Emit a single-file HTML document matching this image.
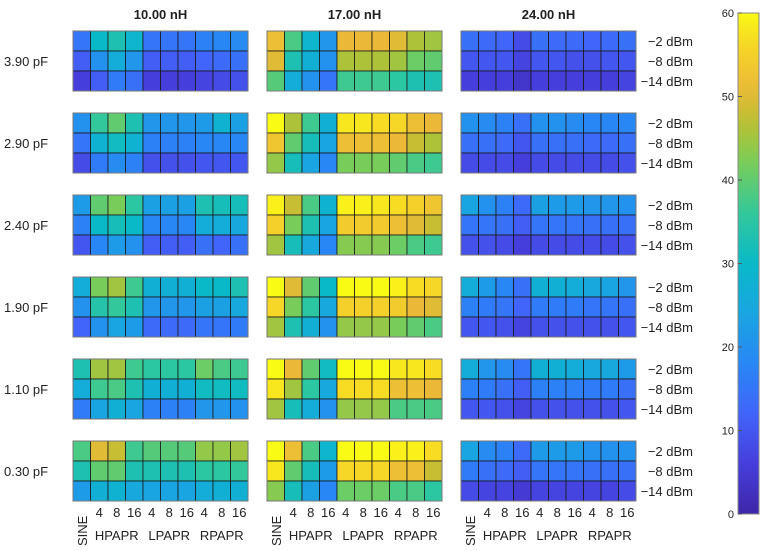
<!DOCTYPE html>
<html><head><meta charset="utf-8"><style>
body{margin:0;background:#fff;font-family:"Liberation Sans",Arial,sans-serif}
svg text{font-family:"Liberation Sans",Arial,sans-serif;fill:#222}
</style></head><body>
<svg id="chart" width="764" height="546" xmlns="http://www.w3.org/2000/svg">
<defs><linearGradient id="cbg" x1="0" y1="1" x2="0" y2="0"></linearGradient></defs>
</svg>
<script>
const inductances = ["10.00 nH","17.00 nH","24.00 nH"];
const capacitances = ["3.90 pF","2.90 pF","2.40 pF","1.90 pF","1.10 pF","0.30 pF"];
const powers = ["\u22122 dBm","\u22128 dBm","\u221214 dBm"];
const xTicks = ["4","8","16","4","8","16","4","8","16"];
const groups = ["HPAPR","LPAPR","RPAPR"];
const cbTicks = [0,10,20,30,40,50,60];
// values[capRow][inductance][powerRow][col]
const values = [
 [[[15,30,33,29,15,15,15,17,18,19],[11,20,26,21,11,11,11,12,13,14],[6,11,16,14,6,6,6,7,8,9]],
  [[52,38,29,21,51,51,51,50,46,45],[50,33,27,20,46,46,46,45,41,40],[39,26,20,15,37,37,37,35,33,33]],
  [[14,13,12,8,14,13,13,12,13,14],[10,10,10,7,10,10,9,9,10,10],[6,6,6,4,6,6,6,6,6,7]]],
 [[[20,36,40,33,21,21,21,22,28,23],[15,28,31,28,17,17,17,18,18,18],[8,16,19,17,9,9,9,10,10,10]],
  [[60,46,37,27,58,58,57,56,52,51],[53,40,32,24,52,52,52,51,48,46],[44,32,24,18,42,42,42,40,38,37]],
  [[20,19,17,14,20,20,19,18,18,18],[14,14,13,10,14,14,14,13,13,14],[8,8,8,6,8,8,8,8,8,9]]],
 [[[22,40,42,35,23,23,23,33,32,32],[17,30,32,30,18,18,18,26,26,25],[10,18,22,20,11,11,11,14,12,14]],
  [[59,48,38,28,59,59,58,57,55,53],[55,42,33,24,54,54,54,52,50,48],[45,32,25,18,43,43,43,41,38,37]],
  [[24,20,17,13,23,22,22,21,21,20],[15,15,14,11,15,15,15,14,14,14],[9,9,8,6,8,8,8,8,8,9]]],
 [[[26,42,45,37,27,27,27,30,30,33],[20,34,36,33,21,21,21,23,23,25],[12,20,24,22,13,13,13,15,15,16]],
  [[60,50,40,30,60,60,60,59,57,56],[56,42,35,25,55,55,55,54,51,50],[45,33,27,20,44,44,44,42,40,38]],
  [[26,22,18,14,27,27,26,25,24,21],[17,16,15,12,16,16,16,15,15,14],[10,10,9,7,9,9,9,9,9,10]]],
 [[[33,45,45,37,35,35,35,41,38,37],[26,37,38,33,27,27,27,31,31,31],[16,24,27,24,17,17,17,21,21,20]],
  [[60,51,40,31,60,60,60,58,58,57],[58,45,35,25,57,57,57,52,52,51],[45,32,26,20,44,44,44,38,38,38]],
  [[26,21,19,15,27,27,26,25,25,22],[17,16,14,11,17,17,17,16,16,14],[10,10,9,7,9,9,9,9,9,10]]],
 [[[38,50,48,37,39,39,39,44,44,45],[33,40,40,33,33,33,33,35,35,36],[22,27,28,25,24,24,24,26,27,27]],
  [[60,52,38,29,60,60,60,59,59,57],[58,40,32,22,56,56,56,52,52,48],[43,32,23,18,41,41,41,38,38,35]],
  [[24,19,17,13,22,22,22,20,20,20],[16,14,13,11,15,15,15,14,14,14],[8,7,7,5,7,7,7,7,7,8]]]
];
const NS="http://www.w3.org/2000/svg";
const svg=document.getElementById('chart');
const stops=[[0,[62,38,168]],[0.1,[70,62,220]],[0.2,[65,100,250]],[0.3,[40,135,245]],[0.4,[25,165,225]],[0.5,[10,185,200]],[0.6,[50,200,155]],[0.7,[120,205,90]],[0.78,[185,192,50]],[0.85,[235,185,55]],[0.95,[248,220,35]],[1,[249,251,20]]];
function parula(v){let t=Math.max(0,Math.min(1,v/60));for(let i=1;i<stops.length;i++){if(t<=stops[i][0]){const a=stops[i-1],b=stops[i];const f=(t-a[0])/(b[0]-a[0]);const c=a[1].map((x,k)=>Math.round(x+(b[1][k]-x)*f));return `rgb(${c})`;}}return 'rgb(249,251,20)';}
function mk(tag,attrs,txt){const e=document.createElementNS(NS,tag);for(const k in attrs)e.setAttribute(k,attrs[k]);if(txt!==undefined)e.textContent=txt;svg.appendChild(e);return e;}
const panelX=[73,267,461], panelW=175, cellH=20, panelTop=31, panelStep=82;
const cw=panelW/10;
function xCell(p,c){return panelX[p]+c*cw;}
function yCell(r,pr){return panelTop+r*panelStep+pr*cellH;}
inductances.forEach((lab,p)=>{const t=mk('text',{x:panelX[p]+panelW/2,y:19,'text-anchor':'middle','font-size':13,'font-weight':'bold'},lab);

});
capacitances.forEach((lab,r)=>{const t=mk('text',{x:4,y:yCell(r,1.5)+5,'font-size':13},lab);


powers.forEach((pl,pr)=>{const u=mk('text',{x:693,y:yCell(r,pr)+cellH/2+5,'font-size':13,'text-anchor':'end'},pl);

});
inductances.forEach((_,p)=>{
 values[r][p].forEach((row,pr)=>row.forEach((v,c)=>{
  const e=mk('rect',{x:xCell(p,c),y:yCell(r,pr),width:cw,height:cellH,fill:parula(v),stroke:'#1a1a1a','stroke-width':0.8});
  
  
 }));
 const b=mk('rect',{x:panelX[p],y:yCell(r,0),width:panelW,height:3*cellH,fill:'none',stroke:'#777','stroke-width':1});
 
 
});});
inductances.forEach((_,p)=>{
 const s=mk('text',{transform:`translate(${xCell(p,0)+cw/2+5},546) rotate(-90)`,'font-size':13},'SINE');
 
 
 xTicks.forEach((t,i)=>{const e=mk('text',{x:xCell(p,i+1)+cw/2,y:517,'font-size':13,'text-anchor':'middle'},t);
 
 });
 groups.forEach((g,i)=>{const e=mk('text',{x:xCell(p,2+3*i)+cw/2,y:540,'font-size':13,'text-anchor':'middle'},g);
 
 });
});
// colorbar
const cbX=738,cbW=21,cbTop=13,cbBot=514;
function yCb(v){return cbBot-(v/60)*(cbBot-cbTop);}
const grad=document.getElementById('cbg');
for(let i=0;i<=30;i++){const s=document.createElementNS(NS,'stop');s.setAttribute('offset',i/30);s.setAttribute('stop-color',parula(i*2));grad.appendChild(s);}
const cb=mk('rect',{x:cbX,y:cbTop,width:cbW,height:cbBot-cbTop,fill:'url(#cbg)',stroke:'#888','stroke-width':1});


cbTicks.forEach(v=>{const l=mk('line',{x1:cbX,x2:cbX+4,y1:yCb(v),y2:yCb(v),stroke:'#555'});


const t=mk('text',{x:cbX-4,y:yCb(v)+4,'font-size':11,'text-anchor':'end'},String(v));

});
</script>
</body></html>
